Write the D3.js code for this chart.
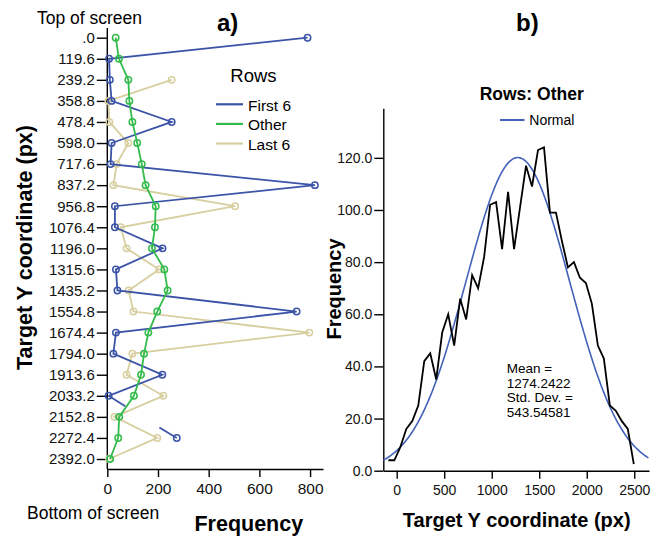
<!DOCTYPE html>
<html lang="en">
<head>
<meta charset="UTF-8"/>
<title>Target Y coordinate frequencies</title>
<style>
  body { margin: 0; background: #ffffff; }
  svg { display: block; font-family: "Liberation Sans", Arial, sans-serif; }
  .axis path, .axis line { stroke: #000; stroke-width: 1.4; }
  .axis text { fill: #111; }
</style>
</head>
<body>
<svg width="661" height="536"></svg>
<script src="https://cdn.jsdelivr.net/npm/d3@7"></script>
<script>
// ---- panel a data ----
const categories = [".0", "119.6", "239.2", "358.8", "478.4", "598.0", "717.6", "837.2",
  "956.8", "1076.4", "1196.0", "1315.6", "1435.2", "1554.8", "1674.4", "1794.0",
  "1913.6", "2033.2", "2152.8", "2272.4", "2392.0"];
const firstSix = [790, 7, 10, 17, 254, 17, 13, 819, 30, 30, 218, 34, 40, 747, 34, 24, 217, 5, 137, 274, null];
const firstSixHidden = [18];   // point not drawn, only half segments reach it
const other = [33, 46, 83, 87, 99, 118, 136, 151, 191, 188, 176, 225, 238, 197, 162, 145, 133, 105, 47, 43, 11];
const lastSix = [null, null, 254, 4, 8, 83, 37, 24, 504, 53, 76, 204, 84, 103, 797, 99, 76, 221, 28, 197, 7];
const freqTicks = [0, 200, 400, 600, 800];

// ---- panel b data ----
const binStart = -88;
const binWidth = 63;
const histCounts = [4, 4, 9, 16, 19, 25, 42, 45, 35, 53, 60, 48, 66, 58, 75, 70, 82, 102, 103, 85,
  107, 85, 101, 117, 109, 123, 124, 99, 99, 88, 78, 80, 74, 72, 64, 48, 43, 25, 23, 19, 16, 2.5];
const meanY = 1274.2422;
const sdY = 543.54581;
const histYTicks = [0, 20, 40, 60, 80, 100, 120];
const histXTicks = [0, 500, 1000, 1500, 2000, 2500];

const colors = { first: "#3b54a8", other: "#33bb4c", last: "#d7cfa0" };

const svg = d3.select("svg");

// ================= panel a =================
const ax = d3.scaleLinear().domain([0, 851]).range([107.3, 323]);
const ay = d3.scalePoint().domain(categories).range([37.7, 459]);

const gA = svg.append("g");

gA.append("line").attr("x1", ax(0)).attr("x2", ax(0)).attr("y1", 28).attr("y2", 469)
  .attr("stroke", "#000").attr("stroke-width", 1.4);

gA.append("g").attr("class", "axis")
  .attr("transform", `translate(${ax(0)},0)`)
  .call(d3.axisLeft(ay).tickSize(10.5).tickPadding(2))
  .call(g => g.select(".domain").remove())
  .selectAll("text").style("font-size", "15px");

gA.append("g").attr("class", "axis")
  .attr("transform", "translate(0,469)")
  .call(d3.axisBottom(ax).tickValues(freqTicks).tickSize(8).tickPadding(6).tickSizeOuter(0))
  .selectAll("text").style("font-size", "15.5px");

function series(vals, color, hidden) {
  const pts = vals.map((v, i) => ({ v: v, c: categories[i], i: i }));
  const visible = d => d.v != null && !hidden.includes(d.i);
  const line = d3.line().defined(visible).x(d => ax(d.v)).y(d => ay(d.c));
  gA.append("path").datum(pts).attr("d", line)
    .attr("fill", "none").attr("stroke", color).attr("stroke-width", 1.8);
  // half segments toward hidden points
  hidden.forEach(h => {
    [h - 1, h + 1].forEach(n => {
      if (n < 0 || n >= pts.length || !visible(pts[n])) return;
      const a = pts[n], b = pts[h];
      gA.append("line")
        .attr("x1", ax(a.v)).attr("y1", ay(a.c))
        .attr("x2", (ax(a.v) + ax(b.v)) / 2).attr("y2", (ay(a.c) + ay(b.c)) / 2)
        .attr("stroke", color).attr("stroke-width", 1.8);
    });
  });
  gA.append("g").selectAll("circle").data(pts.filter(visible)).join("circle")
    .attr("cx", d => ax(d.v)).attr("cy", d => ay(d.c)).attr("r", 3.2)
    .attr("fill", "none").attr("stroke", color).attr("stroke-width", 1.5);
}
series(lastSix, colors.last, []);
series(firstSix, colors.first, firstSixHidden);
series(other, colors.other, []);

// legend
const legend = [["First 6", colors.first], ["Other", colors.other], ["Last 6", colors.last]];
gA.append("text").attr("x", 253.5).attr("y", 81.7).attr("text-anchor", "middle")
  .style("font-size", "18.5px").text("Rows");
legend.forEach((d, i) => {
  const y = 104.3 + i * 19.6;
  gA.append("line").attr("x1", 216).attr("x2", 243).attr("y1", y).attr("y2", y)
    .attr("stroke", d[1]).attr("stroke-width", 2.2);
  gA.append("text").attr("x", 248).attr("y", y + 6.3).style("font-size", "15.5px").text(d[0]);
});

gA.append("text").attr("x", 37).attr("y", 23.5).style("font-size", "17.5px").text("Top of screen");
gA.append("text").attr("x", 27).attr("y", 519).style("font-size", "17.5px").text("Bottom of screen");
gA.append("text").attr("x", 217).attr("y", 31).style("font-size", "24px")
  .style("font-weight", "bold").text("a)");
gA.append("text").attr("x", 248.8).attr("y", 530.5).attr("text-anchor", "middle")
  .style("font-size", "21.5px").style("font-weight", "bold").text("Frequency");
gA.append("text").attr("transform", "translate(32,247.5) rotate(-90)")
  .attr("text-anchor", "middle").style("font-size", "21.5px").style("font-weight", "bold")
  .text("Target Y coordinate (px)");

// ================= panel b =================
const bx = d3.scaleLinear().domain([-141, 2655]).range([383.3, 649]);
const by = d3.scaleLinear().domain([0, 139]).range([470.7, 108.3]);

const gB = svg.append("g");

gB.append("g").attr("class", "axis")
  .attr("transform", `translate(${bx.range()[0]},0)`)
  .call(d3.axisLeft(by).tickValues(histYTicks).tickFormat(d3.format(".1f"))
    .tickSize(9).tickPadding(2).tickSizeOuter(0))
  .selectAll("text").style("font-size", "14px");

gB.append("g").attr("class", "axis")
  .attr("transform", `translate(0,${by(0)})`)
  .call(d3.axisBottom(bx).tickValues(histXTicks).tickFormat(d3.format("d"))
    .tickSize(8).tickPadding(6).tickSizeOuter(0))
  .selectAll("text").style("font-size", "14px");

// normal curve fitted from mean and std. dev.
const nTotal = d3.sum(histCounts);
const normalPts = d3.range(bx.domain()[0], bx.domain()[1] + 1, 10).map(x => {
  const z = (x - meanY) / sdY;
  return [x, nTotal * binWidth * Math.exp(-0.5 * z * z) / (sdY * Math.sqrt(2 * Math.PI))];
});
gB.append("path").datum(normalPts)
  .attr("d", d3.line().x(d => bx(d[0])).y(d => by(d[1])))
  .attr("fill", "none").attr("stroke", "#4262b8").attr("stroke-width", 1.6);

// frequency polygon
gB.append("path").datum(histCounts)
  .attr("d", d3.line().x((d, i) => bx(binStart + i * binWidth)).y(d => by(d)))
  .attr("fill", "none").attr("stroke", "#000").attr("stroke-width", 1.8)
  .attr("stroke-linejoin", "miter");

gB.append("text").attr("x", 531.7).attr("y", 99.5).attr("text-anchor", "middle")
  .style("font-size", "17.5px").style("font-weight", "bold").text("Rows: Other");
gB.append("line").attr("x1", 500).attr("x2", 524.5).attr("y1", 120).attr("y2", 120)
  .attr("stroke", "#4262b8").attr("stroke-width", 2);
gB.append("text").attr("x", 529.3).attr("y", 125).style("font-size", "14px").text("Normal");

const stats = ["Mean =", meanY.toFixed(4), "Std. Dev. =", sdY.toFixed(5)];
stats.forEach((s, i) => {
  gB.append("text").attr("x", 506.7).attr("y", 373 + i * 14.5)
    .style("font-size", "13.5px").text(s);
});

gB.append("text").attr("x", 516.7).attr("y", 527).attr("text-anchor", "middle")
  .style("font-size", "20px").style("font-weight", "bold").text("Target Y coordinate (px)");
gB.append("text").attr("transform", "translate(341,289) rotate(-90)")
  .attr("text-anchor", "middle").style("font-size", "20px").style("font-weight", "bold")
  .text("Frequency");
gB.append("text").attr("x", 516).attr("y", 31).style("font-size", "24px")
  .style("font-weight", "bold").text("b)");
</script>
</body>
</html>
